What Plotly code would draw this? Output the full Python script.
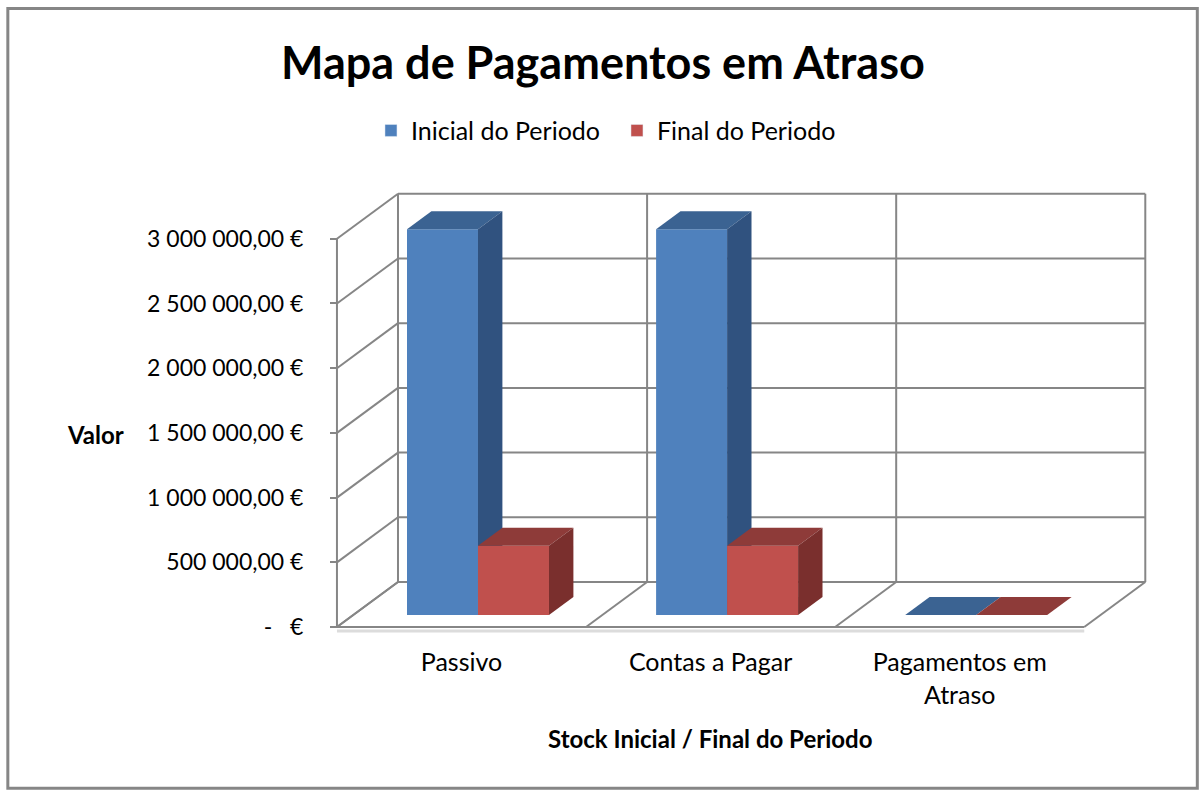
import plotly.graph_objects as go

# ---------------- data ----------------
categories = ["Passivo", "Contas a Pagar", "Pagamentos em<br>Atraso"]
series_names = ["Inicial do Periodo", "Final do Periodo"]
inicial = [2980000, 2980000, 0]
final = [535000, 535000, 0]
tick_values = [0, 500000, 1000000, 1500000, 2000000, 2500000, 3000000]
tick_labels = ["-\u00a0\u00a0\u00a0€", "500\u00a0000,00\u00a0€", "1\u00a0000\u00a0000,00\u00a0€",
               "1\u00a0500\u00a0000,00\u00a0€", "2\u00a0000\u00a0000,00\u00a0€",
               "2\u00a0500\u00a0000,00\u00a0€", "3\u00a0000\u00a0000,00\u00a0€"]

# ---------------- styling / geometry ----------------
FONT = "Lato, 'Open Sans', sans-serif"
GRID = "#868686"
FRONT = ["#4F81BD", "#C0504D"]
TOP = ["#3B6392", "#8E3B39"]
SIDE = ["#30527F", "#7A2F2D"]

W, H = 1199, 795
X0PX, Y0PX = 337, 627          # pixel of (x=0, value=0) on the front plane
CATPX = 249.0                  # pixels per category
VMAX = max(tick_values)
VALPX = 388.0 / VMAX           # pixels per value unit
DX = 61.0 / CATPX              # depth offset (category units)
DY = 45.0 / VALPX              # depth offset (value units)
F0, F1 = 0.27, 0.67            # bar front / back depth fractions
GAP, BW = 0.215, 0.285         # bar gap and width within category

XMIN, XMAX = -0.04, 3.3
YMIN, YMAX = -0.1e6, 3.4e6
PL = X0PX + XMIN * CATPX
PR = X0PX + XMAX * CATPX
PB = Y0PX - YMIN * VALPX
PT = Y0PX - YMAX * VALPX


def px(xp):
    return (xp - PL) / (PR - PL)


def py(yp):
    return (PB - yp) / (PB - PT)


def P(x, v, f):
    return (x + f * DX, v + f * DY)


fig = go.Figure()

# ---------------- walls / grid ----------------
n = len(categories)
shapes = []


def seg(a, b, color=GRID, width=2):
    shapes.append(dict(type="line", xref="x", yref="y", x0=a[0], y0=a[1], x1=b[0], y1=b[1],
                       line=dict(color=color, width=width), layer="below"))


for v in tick_values:
    seg(P(0, v, 1), P(n, v, 1))
    seg(P(0, v, 0), P(0, v, 1))
for i in range(n + 1):
    seg(P(i, 0, 1), P(i, VMAX, 1))
    seg(P(i, 0, 0), P(i, 0, 1))
seg((0, 0 - 4 / VALPX), (n, 0 - 4 / VALPX), color="#dcdcdc", width=3)
seg(P(0, 0, 0), P(n, 0, 0))
seg(P(0, 0, 0), P(0, VMAX, 0))

# ---------------- 3D bars ----------------
def poly(pts, color, name):
    xs = [p[0] for p in pts] + [pts[0][0]]
    ys = [p[1] for p in pts] + [pts[0][1]]
    fig.add_trace(go.Scatter(x=xs, y=ys, mode="lines", fill="toself", fillcolor=color,
                             line=dict(width=0, color=color), showlegend=False,
                             hoverinfo="text", text=name))


for i in range(n):
    for s, vals in enumerate([inicial, final]):
        v = vals[i]
        x0 = i + GAP + s * BW
        x1 = x0 + BW
        name = f"{series_names[s]} - {categories[i]}: {v:,.2f} €"
        if v > 0:
            poly([P(x0, 0, F0), P(x1, 0, F0), P(x1, v, F0), P(x0, v, F0)], FRONT[s], name)
        poly([P(x0, v, F0), P(x1, v, F0), P(x1, v, F1), P(x0, v, F1)], TOP[s], name)
        if v > 0:
            poly([P(x1, 0, F0), P(x1, 0, F1), P(x1, v, F1), P(x1, v, F0)], SIDE[s], name)

# legend entries
for s in range(2):
    fig.add_trace(go.Bar(x=[None], y=[None], name=series_names[s], marker_color=FRONT[s],
                         showlegend=True))

# outer border
shapes.append(dict(type="rect", xref="paper", yref="paper", x0=px(8), x1=px(1197),
                   y0=py(788), y1=py(9), line=dict(color="#868686", width=3), layer="below"))

annotations = [
    dict(text="<b>Mapa de Pagamentos em Atraso</b>", x=px(603), y=py(62), xref="paper",
         yref="paper", showarrow=False, font=dict(family=FONT, size=45, color="black"),
         xanchor="center", yanchor="middle"),
    dict(text="<b>Valor</b>", x=px(96), y=py(435), xref="paper", yref="paper",
         showarrow=False, font=dict(family=FONT, size=24, color="black"),
         xanchor="center", yanchor="middle"),
    dict(text="<b>Stock Inicial / Final do Periodo</b>", x=px(710), y=py(738),
         xref="paper", yref="paper", showarrow=False,
         font=dict(family=FONT, size=24, color="black"), xanchor="center", yanchor="middle"),
]

fig.update_layout(
    width=W, height=H,
    margin=dict(l=PL, r=W - PR, t=PT, b=H - PB, autoexpand=False),
    paper_bgcolor="white", plot_bgcolor="white",
    shapes=shapes, annotations=annotations,
    font=dict(family=FONT, size=24, color="black"),
    showlegend=True,
    legend=dict(orientation="h", x=px(371), y=py(131), xanchor="left", yanchor="middle",
                font=dict(family=FONT, size=25, color="black"), bgcolor="rgba(0,0,0,0)",
                entrywidth=201, entrywidthmode="pixels"),
    xaxis=dict(range=[XMIN, XMAX], type="linear", showgrid=False, zeroline=False,
               showline=False, tickmode="array", tickvals=[i + 0.5 for i in range(n)],
               ticktext=categories, ticks="", ticklen=0, ticklabelstandoff=5,
               tickfont=dict(family=FONT, size=25), fixedrange=True),
    yaxis=dict(range=[YMIN, YMAX], type="linear", showgrid=False, zeroline=False,
               showline=False, tickmode="array", tickvals=tick_values, ticktext=tick_labels,
               ticks="outside", ticklen=7, tickwidth=2, tickcolor=GRID,
               anchor="free", position=(0 - XMIN) / (XMAX - XMIN),
               ticklabelstandoff=22, tickfont=dict(family=FONT, size=23), fixedrange=True),
)

fig.write_html("out.html", config={"displayModeBar": False},
               post_script="document.body.style.margin='0';")
